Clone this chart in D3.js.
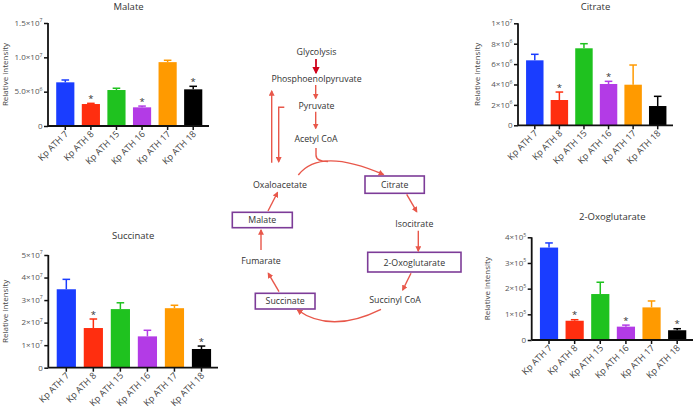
<!DOCTYPE html>
<html><head><meta charset="utf-8">
<script src="https://cdn.jsdelivr.net/npm/d3@7"></script>
<style>
html,body{margin:0;padding:0;background:#fff;}
svg{display:block;font-family:"Open Sans",sans-serif;}
</style></head>
<body>
<svg id="c" width="695" height="411"></svg>
<script>
// ---------- DATA ----------
const strains = ["Kp ATH 7","Kp ATH 8","Kp ATH 15","Kp ATH 16","Kp ATH 17","Kp ATH 18"];
const barColors = ["#1a3dff","#ff2e0f","#1fc21f","#b33be6","#ff9a00","#000000"];

const malateMean = [6.36e6, 3.2e6, 5.24e6, 2.72e6, 9.3e6, 5.34e6];
const malateErr  = [0.34e6, 0.1e6, 0.26e6, 0.18e6, 0.27e6, 0.44e6];
const malateSig  = [0,1,0,1,0,1];
const malateTicks = [0, 5e6, 1e7, 1.5e7];
const malateTickLabels = [["0",""],["5.0×10","6"],["1.0×10","7"],["1.5×10","7"]];

const citrateMean = [6.37e6, 2.48e6, 7.55e6, 4.05e6, 3.98e6, 1.89e6];
const citrateErr  = [0.59e6, 0.78e6, 0.45e6, 0.26e6, 1.93e6, 0.95e6];
const citrateSig  = [0,1,0,1,0,0];
const citrateTicks = [0, 2e6, 4e6, 6e6, 8e6, 1e7];
const citrateTickLabels = [["0",""],["2×10","6"],["4×10","6"],["6×10","6"],["8×10","6"],["1×10","7"]];

const succinateMean = [3.48e7, 1.76e7, 2.6e7, 1.39e7, 2.64e7, 0.83e7];
const succinateErr  = [0.44e7, 0.40e7, 0.28e7, 0.27e7, 0.13e7, 0.13e7];
const succinateSig  = [0,1,0,0,0,1];
const succinateTicks = [0, 1e7, 2e7, 3e7, 4e7, 5e7];
const succinateTickLabels = [["0",""],["1×10","7"],["2×10","7"],["3×10","7"],["4×10","7"],["5×10","7"]];

const oxoMean = [3.6e5, 0.75e5, 1.79e5, 0.52e5, 1.27e5, 0.38e5];
const oxoErr  = [0.18e5, 0.04e5, 0.46e5, 0.06e5, 0.25e5, 0.06e5];
const oxoSig  = [0,1,0,1,0,1];
const oxoTicks = [0, 1e5, 2e5, 3e5, 4e5];
const oxoTickLabels = [["0",""],["1×10","5"],["2×10","5"],["3×10","5"],["4×10","5"]];

// ---------- LAYOUT ----------
const panels = [
  {title:"Malate", mean:malateMean, err:malateErr, sig:malateSig, ticks:malateTicks, labels:malateTickLabels,
   x0:48, x1:209, yTop:23, yBot:126, titleY:9.5, ylabX:5},
  {title:"Citrate", mean:citrateMean, err:citrateErr, sig:citrateSig, ticks:citrateTicks, labels:citrateTickLabels,
   x0:518, x1:673, yTop:23.3, yBot:125.3, titleY:9.5, ylabX:477},
  {title:"Succinate", mean:succinateMean, err:succinateErr, sig:succinateSig, ticks:succinateTicks, labels:succinateTickLabels,
   x0:48.3, x1:218, yTop:255, yBot:367.7, titleY:238.5, ylabX:5},
  {title:"2-Oxoglutarate", mean:oxoMean, err:oxoErr, sig:oxoSig, ticks:oxoTicks, labels:oxoTickLabels,
   x0:531.7, x1:693, yTop:237.3, yBot:340, titleY:220, ylabX:487}
];

const svg = d3.select("#c");

panels.forEach(p => {
  const g = svg.append("g");
  const x = d3.scaleBand().domain(strains).range([p.x0+4.5, p.x1-3]).paddingInner(0.29).paddingOuter(0.145);
  const y = d3.scaleLinear().domain([0, p.ticks[p.ticks.length-1]]).range([p.yBot, p.yTop]);

  // title
  g.append("text").attr("x",(p.x0+p.x1)/2).attr("y",p.titleY).attr("text-anchor","middle")
    .attr("font-size",9.5).attr("fill","#333").text(p.title);
  // y label
  g.append("text").attr("transform",`translate(${p.ylabX+3},${(p.yTop+p.yBot)/2}) rotate(-90)`)
    .attr("text-anchor","middle").attr("font-size",8).attr("fill","#444").text("Relative intensity");

  // bars
  g.selectAll(".bar").data(p.mean).enter().append("rect")
    .attr("x",(d,i)=>x(strains[i])).attr("width",x.bandwidth())
    .attr("y",d=>y(d)).attr("height",d=>y(0)-y(d))
    .attr("fill",(d,i)=>barColors[i]);
  // error bars (upper)
  const cap = 3.8;
  p.mean.forEach((m,i)=>{
    const cx = x(strains[i]) + x.bandwidth()/2;
    g.append("line").attr("x1",cx).attr("x2",cx).attr("y1",y(m)).attr("y2",y(m+p.err[i]))
      .attr("stroke",barColors[i]).attr("stroke-width",1.5);
    g.append("line").attr("x1",cx-cap).attr("x2",cx+cap).attr("y1",y(m+p.err[i])).attr("y2",y(m+p.err[i]))
      .attr("stroke",barColors[i]).attr("stroke-width",1.5);
    if (p.sig[i]) {
      g.append("text").attr("x",cx).attr("y",y(m+p.err[i])-1.5).attr("text-anchor","middle")
        .attr("font-size",9.5).attr("fill","#333").text("*");
    }
  });

  // y axis
  const ya = d3.axisLeft(y).tickValues(p.ticks).tickSize(4).tickFormat("");
  const yg = g.append("g").attr("transform",`translate(${p.x0},0)`).call(ya);
  yg.select(".domain").attr("stroke","#111").attr("stroke-width",1.8).attr("d",`M0,${p.yTop}V${p.yBot}`);
  yg.selectAll(".tick line").attr("stroke","#111").attr("stroke-width",1.5);
  p.ticks.forEach((t,i)=>{
    const tx = g.append("text").attr("x",p.x0-5.5).attr("y",y(t)+2.8).attr("text-anchor","end")
      .attr("font-size",8).attr("fill","#555");
    tx.append("tspan").text(p.labels[i][0]);
    if (p.labels[i][1]) tx.append("tspan").attr("dy",-3.5).attr("font-size",5.2).text(p.labels[i][1]);
  });

  // x axis
  const xa = d3.axisBottom(x).tickSize(4).tickFormat("");
  const xg = g.append("g").attr("transform",`translate(0,${p.yBot})`).call(xa);
  xg.select(".domain").attr("stroke","#111").attr("stroke-width",1.8).attr("d",`M${p.x0},0H${p.x1}`);
  xg.selectAll(".tick line").attr("stroke","#111").attr("stroke-width",1.5);
  strains.forEach(s=>{
    const cx = x(s)+x.bandwidth()/2;
    g.append("text").attr("transform",`translate(${cx+3.5},${p.yBot+8.5}) rotate(-45)`)
      .attr("text-anchor","end").attr("font-size",9).attr("fill","#444").text(s);
  });
});

// ---------- PATHWAY ----------
const arrowColor = "#e8574a";
const defs = svg.append("defs");
function marker(id,color){
  defs.append("marker").attr("id",id).attr("viewBox","0 0 10 10").attr("refX",8).attr("refY",5)
    .attr("markerWidth",4.2).attr("markerHeight",4.2).attr("orient","auto-start-reverse")
    .append("path").attr("d","M0,0L10,5L0,10z").attr("fill",color);
}
marker("ah",arrowColor);
marker("ahd","#d0021b");

const nodes = [
  {t:"Glycolysis", x:316.5, y:51.5},
  {t:"Phosphoenolpyruvate", x:316.5, y:78.7},
  {t:"Pyruvate", x:316.5, y:105.3},
  {t:"Acetyl CoA", x:316, y:138.3},
  {t:"Oxaloacetate", x:280, y:184.3},
  {t:"Citrate", x:394.7, y:185, box:[365,176,59.3,17.3]},
  {t:"Isocitrate", x:414.3, y:223.3},
  {t:"2-Oxoglutarate", x:414.3, y:262.3, box:[367.7,252.3,93.3,19.7]},
  {t:"Succinyl CoA", x:395, y:300},
  {t:"Succinate", x:285.2, y:301.2, box:[255.3,293.3,59.7,15.7]},
  {t:"Fumarate", x:261, y:261},
  {t:"Malate", x:262.3, y:220, box:[232.3,212.3,60,15.4]}
];
const pg = svg.append("g");
nodes.forEach(n=>{
  if (n.box) pg.append("rect").attr("x",n.box[0]).attr("y",n.box[1]).attr("width",n.box[2]).attr("height",n.box[3])
    .attr("fill","#fff").attr("stroke","#7d3c98").attr("stroke-width",1.6);
  pg.append("text").attr("x",n.x).attr("y",n.y+3.2).attr("text-anchor","middle")
    .attr("font-size",8.8).attr("fill","#333").text(n.t);
});

const paths = [
  {d:"M316,59V72.7", c:"#d0021b", m:"ahd", w:1.8},
  {d:"M315.7,85V98.3"},
  {d:"M315.7,111.7V128.3"},
  {d:"M271.7,162.7V91"},
  {d:"M284.3,107.3H278.7V161.7"},
  {d:"M298.3,175Q320,147 383.3,174.5"},
  {d:"M316,148V155Q316,161.5 328,161.5", nm:true},
  {d:"M406.7,194.3L416.7,211.7"},
  {d:"M418.3,230.7V251"},
  {d:"M411,273.3L402.7,290"},
  {d:"M381,309.3Q331,334 297.5,310"},
  {d:"M279,291.7L268.3,273.3"},
  {d:"M261,250V230"},
  {d:"M268,211L277.5,192.5"}
];
paths.forEach(p=>{
  const e = pg.append("path").attr("d",p.d).attr("fill","none")
    .attr("stroke",p.c||arrowColor).attr("stroke-width",p.w||1.4);
  if (!p.nm) e.attr("marker-end",`url(#${p.m||"ah"})`);
});
</script>
</body></html>
